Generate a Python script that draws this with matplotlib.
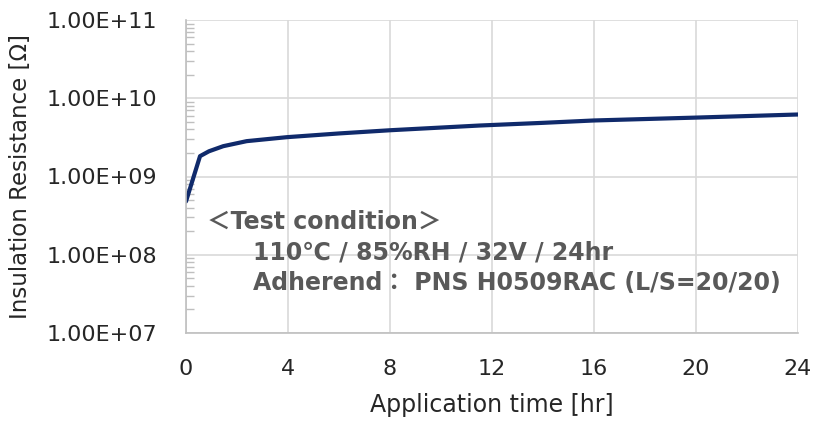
import numpy as np
import matplotlib.pyplot as plt
from matplotlib.ticker import LogLocator, FixedLocator, NullFormatter

# values
time_hr = [0, 0.55, 0.9, 1.46, 2.38, 3.95, 6.0, 8.0, 11.5, 14.0, 16.0, 20.0, 24.0]
resistance = [4.8e8, 1.82e9, 2.1e9, 2.44e9, 2.83e9, 3.18e9, 3.55e9, 3.9e9, 4.48e9,
              4.85e9, 5.2e9, 5.66e9, 6.2e9]

x_ticks = [0, 4, 8, 12, 16, 20, 24]
y_ticks = [1e7, 1e8, 1e9, 1e10, 1e11]
y_labels = ['1.00E+07', '1.00E+08', '1.00E+09', '1.00E+10', '1.00E+11']

condition_lines = ['\uff1cTest condition\uff1e',
                   '110\u2103 / 85%RH / 32V / 24hr',
                   'Adherend\uff1a PNS H0509RAC (L/S=20/20)']

plt.rcParams['font.family'] = ['DejaVu Sans', 'Noto Sans CJK JP']

fig = plt.figure(figsize=(8.28, 4.25), dpi=100)
ax = fig.add_axes([186 / 828, 1 - 333 / 425, (798 - 186) / 828, (333 - 20) / 425])

ax.plot(time_hr, resistance, color='#102a6b', lw=3.0, solid_capstyle='round')

ax.set_yscale('log')
ax.set_xlim(0, 24)
ax.set_ylim(1e7, 1e11)
ax.set_xticks(x_ticks)
ax.set_xticklabels([str(t) for t in x_ticks])
ax.yaxis.set_major_locator(FixedLocator(y_ticks))
ax.set_yticklabels(y_labels)
ax.yaxis.set_minor_locator(LogLocator(base=10, subs=np.arange(2, 10), numticks=20))
ax.yaxis.set_minor_formatter(NullFormatter())

ax.grid(True, which='major', color='#d9d9d9', lw=1.2)
ax.set_axisbelow(True)
for side in ['top', 'right']:
    ax.spines[side].set_visible(False)
for side in ['left', 'bottom']:
    ax.spines[side].set_color('#bfbfbf')
    ax.spines[side].set_linewidth(1.2)

ax.tick_params(axis='both', which='major', length=0, labelsize=16, colors='#262626')
ax.tick_params(axis='y', which='major', pad=21)
ax.tick_params(axis='x', which='major', pad=19)
ax.tick_params(axis='y', which='minor', direction='in', length=6, color='#bfbfbf', width=1)

ax.set_xlabel('Application time [hr]', fontsize=17, color='#262626', labelpad=10)
ax.set_ylabel('Insulation Resistance [\u03a9]', fontsize=16.5, color='#262626', labelpad=10)

# test condition note
fig.text(207 / 828, 1 - 222 / 425, condition_lines[0], fontsize=17, fontweight='bold',
         color='#595959', va='center', ha='left')
fig.text(253 / 828, 1 - 253 / 425, condition_lines[1], fontsize=17, fontweight='bold',
         color='#595959', va='center', ha='left')
fig.text(253 / 828, 1 - 283 / 425, condition_lines[2], fontsize=17, fontweight='bold',
         color='#595959', va='center', ha='left')

fig.savefig('out.png', dpi=100)
